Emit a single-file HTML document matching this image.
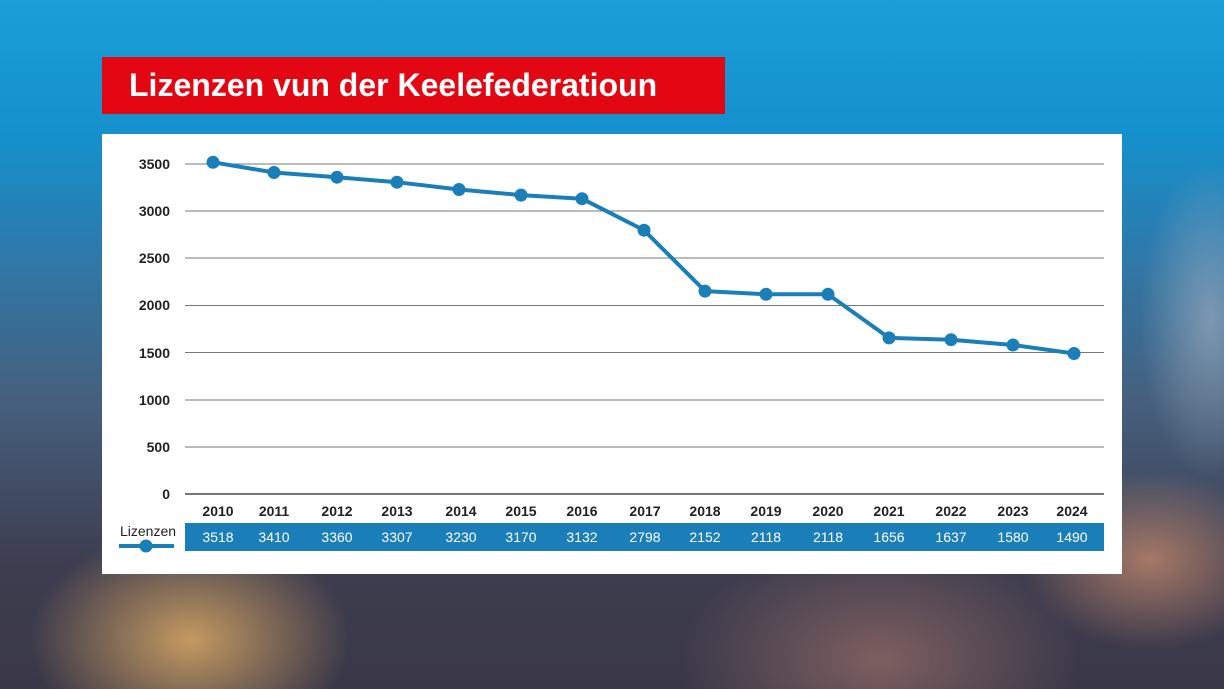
<!DOCTYPE html>
<html><head><meta charset="utf-8"><style>
html,body{margin:0;padding:0;width:1224px;height:689px;overflow:hidden;}
body{position:relative;font-family:"Liberation Sans",sans-serif;
background:
radial-gradient(ellipse 160px 110px at 190px 640px, rgba(220,170,100,0.85), transparent),
radial-gradient(ellipse 130px 90px at 1150px 560px, rgba(200,140,110,0.75), transparent),
radial-gradient(ellipse 200px 120px at 880px 660px, rgba(170,120,110,0.6), transparent),
radial-gradient(ellipse 70px 160px at 1210px 320px, rgba(170,180,195,0.6), transparent),
linear-gradient(180deg,#1a9fd8 0%,#1590cc 20%,#2f78a8 38%,#45607e 58%,#3e3d4f 82%,#3a3848 100%);}
</style></head><body>
<div style="position:absolute;left:102px;top:57px;width:623px;height:57px;background:#e30613;color:#fff;font-weight:bold;font-size:32px;line-height:57px;padding-left:27px;box-sizing:border-box;">Lizenzen vun der Keelefederatioun</div>
<svg style="position:absolute;left:0;top:0" width="1224" height="689">
<rect x="102" y="134" width="1020" height="440" fill="#fff"/>
<g stroke="#777" stroke-width="1">
<line x1="185" x2="1104" y1="164" y2="164"/><line x1="185" x2="1104" y1="211" y2="211"/>
<line x1="185" x2="1104" y1="258" y2="258"/><line x1="185" x2="1104" y1="305.5" y2="305.5"/>
<line x1="185" x2="1104" y1="352.5" y2="352.5"/><line x1="185" x2="1104" y1="400" y2="400"/>
<line x1="185" x2="1104" y1="447" y2="447"/><line x1="185" x2="1104" y1="494" y2="494" stroke-width="2"/>
</g>
<g font-size="14" font-weight="bold" fill="#222" text-anchor="end">
<text x="170" y="169">3500</text><text x="170" y="216">3000</text><text x="170" y="263">2500</text>
<text x="170" y="310">2000</text><text x="170" y="358">1500</text><text x="170" y="405">1000</text>
<text x="170" y="452">500</text><text x="170" y="499">0</text>
</g>
<polyline fill="none" stroke="#1a7fb8" stroke-width="4" stroke-linejoin="round" points="213,162.3 274,172.5 337,177.2 397,182.2 459,189.5 521,195.1 582,198.7 644,230.2 705,291.1 766,294.3 828,294.3 889,337.9 951,339.7 1013,345 1074,353.5"/>
<g fill="#1a7fb8">
<circle cx="213" cy="162.3" r="6.5"/><circle cx="274" cy="172.5" r="6.5"/><circle cx="337" cy="177.2" r="6.5"/><circle cx="397" cy="182.2" r="6.5"/><circle cx="459" cy="189.5" r="6.5"/><circle cx="521" cy="195.1" r="6.5"/><circle cx="582" cy="198.7" r="6.5"/><circle cx="644" cy="230.2" r="6.5"/><circle cx="705" cy="291.1" r="6.5"/><circle cx="766" cy="294.3" r="6.5"/><circle cx="828" cy="294.3" r="6.5"/><circle cx="889" cy="337.9" r="6.5"/><circle cx="951" cy="339.7" r="6.5"/><circle cx="1013" cy="345" r="6.5"/><circle cx="1074" cy="353.5" r="6.5"/>
</g>
<rect x="185" y="523" width="919" height="28" fill="#1a7fb8"/>
<g font-size="14" font-weight="bold" text-anchor="middle" fill="#222">
<text x="218" y="516">2010</text><text x="274" y="516">2011</text><text x="337" y="516">2012</text><text x="397" y="516">2013</text><text x="461" y="516">2014</text><text x="521" y="516">2015</text><text x="582" y="516">2016</text><text x="645" y="516">2017</text><text x="705" y="516">2018</text><text x="766" y="516">2019</text><text x="828" y="516">2020</text><text x="889" y="516">2021</text><text x="951" y="516">2022</text><text x="1013" y="516">2023</text><text x="1072" y="516">2024</text>
</g>
<g font-size="14" text-anchor="middle" fill="#fff">
<text x="218" y="542">3518</text><text x="274" y="542">3410</text><text x="337" y="542">3360</text><text x="397" y="542">3307</text><text x="461" y="542">3230</text><text x="521" y="542">3170</text><text x="582" y="542">3132</text><text x="645" y="542">2798</text><text x="705" y="542">2152</text><text x="766" y="542">2118</text><text x="828" y="542">2118</text><text x="889" y="542">1656</text><text x="951" y="542">1637</text><text x="1013" y="542">1580</text><text x="1072" y="542">1490</text>
</g>
<text x="148" y="536" font-size="14" text-anchor="middle" fill="#222">Lizenzen</text>
<line x1="119" x2="174" y1="546" y2="546" stroke="#1a7fb8" stroke-width="4"/>
<circle cx="146" cy="546" r="6.5" fill="#1a7fb8"/>
</svg>
</body></html>
